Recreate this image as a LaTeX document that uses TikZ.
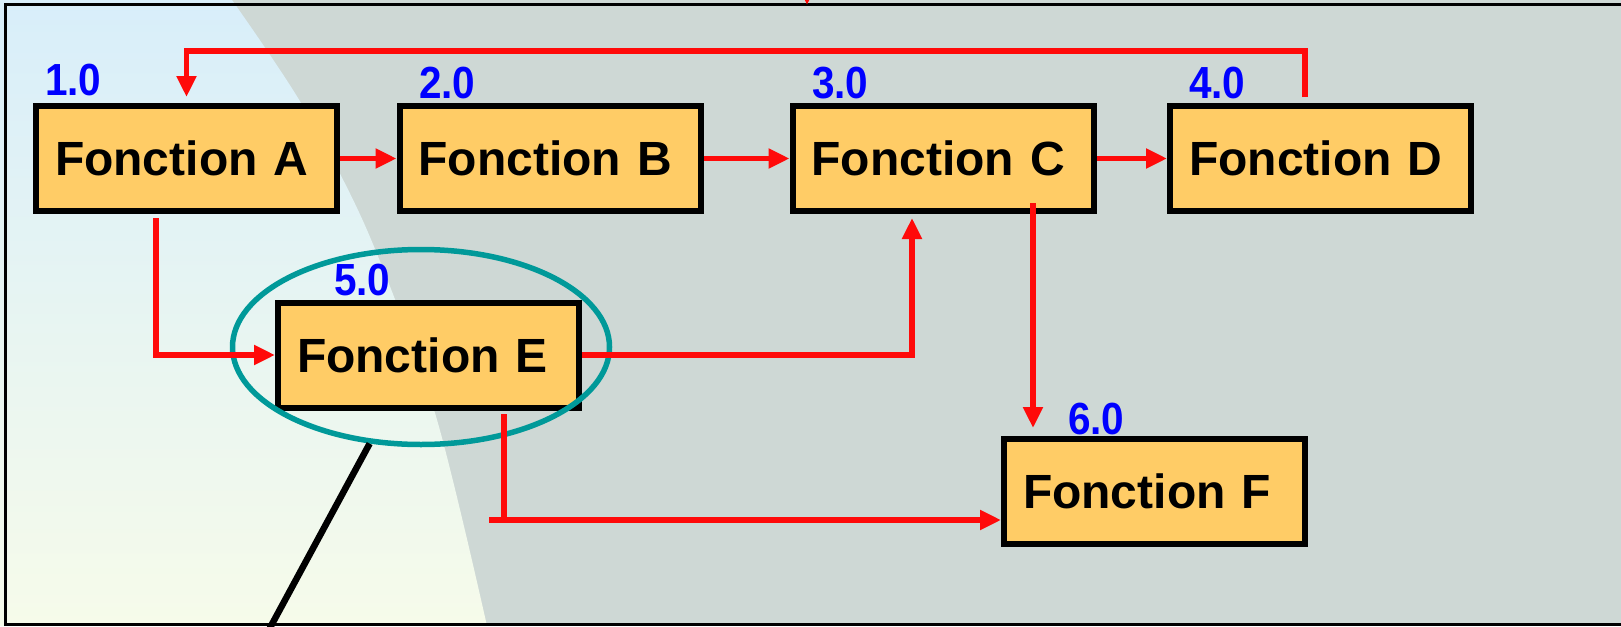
\documentclass[tikz,border=0pt]{standalone}
\usepackage{fontspec}
\setmainfont{Liberation Sans}
\usetikzlibrary{arrows.meta,shapes.geometric}
\definecolor{boxfill}{HTML}{FFCC66}
\definecolor{lnred}{HTML}{FF0A0A}
\definecolor{ringteal}{HTML}{009999}
\definecolor{numblue}{HTML}{0000FF}
\definecolor{bggrey}{HTML}{CED8D5}
\definecolor{bgtop}{HTML}{D8EEFA}
\definecolor{bgbot}{HTML}{F6FBEA}
\begin{document}
\begin{tikzpicture}[x=1pt,y=-1pt,
  fbox/.style={draw=black,line width=6pt,fill=boxfill,minimum height=105pt,
    text width=263pt,inner xsep=19pt,inner ysep=0pt,align=left,
    font=\fontsize{48}{56}\selectfont\bfseries},
  numlbl/.style={text=numblue,font=\fontsize{45}{50}\selectfont\bfseries,
    inner sep=0pt,anchor=base west,xscale=0.9},
  redline/.style={draw=lnred,line width=5.5pt},
  arr/.style={redline,-{Triangle[length=21pt,width=19pt]}},
  ]
\useasboundingbox (0,0) rectangle (1621,626);
\clip (0,0) rectangle (1621,626);
% background
\fill[bggrey] (0,0) rectangle (1621,626);
\shade[top color=bgtop,bottom color=bgbot]
  (0,0) -- plot[smooth] coordinates {(232,0) (301,103) (367,230) (435,413) (487,626)}
  -- (0,626) -- cycle;
% frame
\draw[line width=3pt] (1630,5) -- (5,5) -- (5,624.5) -- (1630,624.5);
% boxes
\node[fbox] (A) at (186.5,158.5) {Fonction A};
\node[fbox] (B) at (550,158.5) {Fonction B};
\node[fbox] (C) at (943,158.5) {Fonction C};
\node[fbox] (D) at (1320.5,158.5) {Fonction D};
\node[fbox] (E) at (428.5,355) {Fonction E};
\node[fbox] (F) at (1154.5,491.5) {Fonction F};
% numbers
\node[numlbl] (nA) at (45,95) {1.0};
\node[numlbl] (nB) at (419,98) {2.0};
\node[numlbl] (nC) at (812,98) {3.0};
\node[numlbl] (nD) at (1189,98) {4.0};
\node[numlbl] (nE) at (334,295) {5.0};
\node[numlbl] (nF) at (1068,434) {6.0};
% highlight ring and its pointer
\node[ellipse,draw=ringteal,line width=5.5pt,minimum width=377pt,minimum height=195pt,inner sep=0pt] (ring) at (421,347) {};
\coordinate (tail) at (258,650);
\draw[line width=6.5pt] (ring.242) -- (tail);
% connectors
\draw[arr] (A.east) -- (B.west);
\draw[arr] (B.east) -- (C.west);
\draw[arr] (C.east) -- (D.west);
\coordinate (fbs) at (1305,97);
\coordinate (fbe) at (186.5,97);
\draw[arr] (fbs) -- ++(0,-46) -| (fbe);
\coordinate (aes) at (156,218);
\draw[arr] (aes) |- (E.west);
\coordinate (ect) at (912,218);
\draw[arr] (E.east) -| (ect);
\coordinate (cfs) at (1033,203);
\coordinate (cft) at (1033,428);
\draw[arr] (cfs) -- (cft);
\coordinate (efs) at (504,414);
\coordinate (efj) at (489,520);
\draw[redline] (efs) -- (efs |- efj);
\draw[arr] (efj) -- (efj -| F.west);
\coordinate (topa) at (807,-40);
\coordinate (topb) at (807,5);
\draw[arr] (topa) -- (topb);
\end{tikzpicture}
\end{document}
